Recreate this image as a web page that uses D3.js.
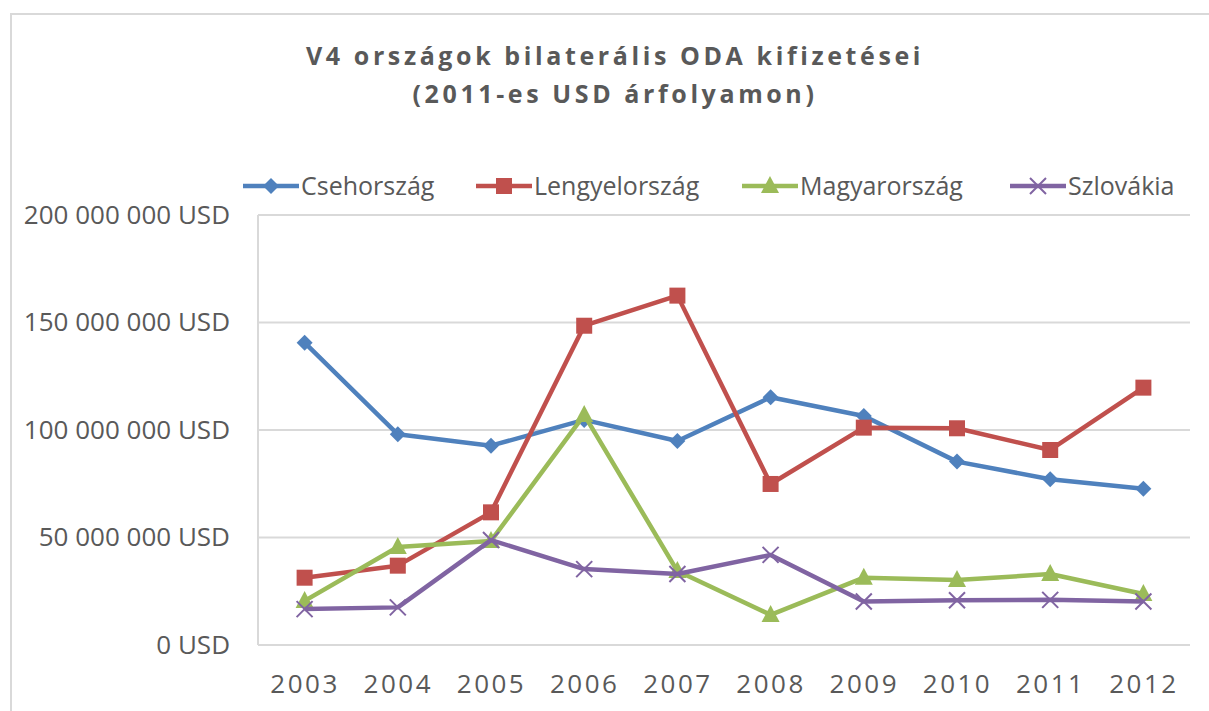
<!DOCTYPE html>
<html>
<head>
<meta charset="utf-8">
<script src="https://cdn.jsdelivr.net/npm/d3@7"></script>
<style>
  body { margin: 0; background: #fff; }
  svg { display: block; font-family: "Open Sans", sans-serif; }
</style>
</head>
<body>
<div id="chart"></div>
<script>
var years = ["2003", "2004", "2005", "2006", "2007", "2008", "2009", "2010", "2011", "2012"];
var seriesNames = ["Csehország", "Lengyelország", "Magyarország", "Szlovákia"];
var csehorszag = [140.6, 98.0, 92.7, 104.7, 94.9, 115.2, 106.5, 85.3, 77.1, 72.7];
var lengyelorszag = [31.3, 36.9, 61.7, 148.5, 162.5, 74.9, 101.1, 100.8, 90.7, 119.7];
var magyarorszag = [20.5, 45.6, 48.4, 107.0, 34.4, 14.0, 31.3, 30.2, 33.0, 23.7];
var szlovakia = [16.7, 17.5, 48.8, 35.3, 33.0, 41.9, 20.2, 20.8, 21.0, 20.2];
var yTicks = [0, 50, 100, 150, 200]; // millió USD
var titleLines = ["V4 országok bilaterális ODA kifizetései", "(2011-es USD árfolyamon)"];

var colors = ["#4f81bd", "#c0504d", "#9bbb59", "#8064a2"];
var markers = ["diamond", "square", "triangle", "cross"];
var values = [csehorszag, lengyelorszag, magyarorszag, szlovakia];

var svgWidth = 1209;
var svgHeight = 711;
var margin = { top: 215, right: 19, bottom: 66, left: 258 };
var width = svgWidth - margin.left - margin.right;
var height = svgHeight - margin.top - margin.bottom;

var svg = d3.select("#chart")
	.append("svg")
	.attr("width", svgWidth)
	.attr("height", svgHeight);

// chart area border (cut by the image edge)
svg.append("path")
	.attr("d", "M11,711 V14 H1209")
	.attr("fill", "none")
	.attr("stroke", "#d9d9d9")
	.attr("stroke-width", 2);

// title
svg.append("g").selectAll("text")
	.data(titleLines)
	.enter()
	.append("text")
	.attr("x", 615)
	.attr("y", (d, i) => 65 + i * 38)
	.attr("text-anchor", "middle")
	.attr("font-size", 25)
	.attr("font-weight", "bold")
	.attr("letter-spacing", 3.6)
	.attr("fill", "#595959")
	.text(d => d);

var chartGroup = svg.append("g")
	.attr("transform", `translate(${margin.left}, ${margin.top})`);

var xScale = d3.scalePoint()
	.domain(years)
	.range([0, width])
	.padding(0.5);

var yScale = d3.scaleLinear()
	.domain([0, 200])
	.range([height, 0]);

// gridlines
chartGroup.append("g")
	.selectAll("line")
	.data(yTicks)
	.enter()
	.append("line")
	.attr("x1", 0)
	.attr("x2", width)
	.attr("y1", d => yScale(d))
	.attr("y2", d => yScale(d))
	.attr("stroke", "#d9d9d9")
	.attr("stroke-width", 2);

chartGroup.append("line")
	.attr("x1", 0).attr("x2", 0)
	.attr("y1", 0).attr("y2", height)
	.attr("stroke", "#d9d9d9")
	.attr("stroke-width", 2);

// y axis labels
var fmt = d => (d === 0 ? "0" : d3.format(",")(d * 1e6).replace(/,/g, " ")) + " USD";
var leftAxis = d3.axisLeft(yScale)
	.tickValues(yTicks)
	.tickSize(0)
	.tickPadding(28)
	.tickFormat(fmt);
var yAxis = chartGroup.append("g").call(leftAxis);
yAxis.select(".domain").remove();
yAxis.selectAll("text")
	.attr("font-size", 26)
	.attr("font-family", "Open Sans")
	.attr("fill", "#595959");

// x axis labels
var bottomAxis = d3.axisBottom(xScale).tickSize(0).tickPadding(30);
var xAxis = chartGroup.append("g")
	.attr("transform", `translate(0, ${height})`)
	.call(bottomAxis);
xAxis.select(".domain").remove();
xAxis.selectAll("text")
	.attr("font-size", 26)
	.attr("font-family", "Open Sans")
	.attr("letter-spacing", 2.5)
	.attr("fill", "#595959");

function drawMarker(g, type, color) {
	if (type === "diamond") {
		g.append("path").attr("d", "M0,-8 L8,0 L0,8 L-8,0 Z").attr("fill", color);
	} else if (type === "square") {
		g.append("rect").attr("x", -8).attr("y", -8).attr("width", 16).attr("height", 16).attr("fill", color);
	} else if (type === "triangle") {
		g.append("path").attr("d", "M0,-10 L9,7 L-9,7 Z").attr("fill", color);
	} else {
		g.append("path").attr("d", "M-8,-8 L8,8 M-8,8 L8,-8")
			.attr("stroke", color).attr("stroke-width", 2).attr("fill", "none");
	}
}

var line = d3.line()
	.x((d, i) => xScale(years[i]))
	.y(d => yScale(d));

values.forEach(function (vals, s) {
	var g = chartGroup.append("g");
	g.append("path")
		.datum(vals)
		.attr("d", line)
		.attr("fill", "none")
		.attr("stroke", colors[s])
		.attr("stroke-width", 4.5)
		.attr("stroke-linejoin", "round");
	vals.forEach(function (v, i) {
		var m = g.append("g").attr("transform", `translate(${xScale(years[i])}, ${yScale(v)})`);
		drawMarker(m, markers[s], colors[s]);
	});
});

// legend
var legendX = [243, 476, 742, 1010];
var legend = svg.append("g");
seriesNames.forEach(function (name, s) {
	var item = legend.append("g").attr("transform", `translate(${legendX[s]}, 186)`);
	item.append("line")
		.attr("x1", 0).attr("x2", 56)
		.attr("stroke", colors[s])
		.attr("stroke-width", 4.5);
	var m = item.append("g").attr("transform", "translate(28, 0)");
	drawMarker(m, markers[s], colors[s]);
	item.append("text")
		.attr("x", 58)
		.attr("y", 9)
		.attr("font-size", 25)
		.attr("fill", "#595959")
		.text(name);
});
</script>
</body>
</html>
